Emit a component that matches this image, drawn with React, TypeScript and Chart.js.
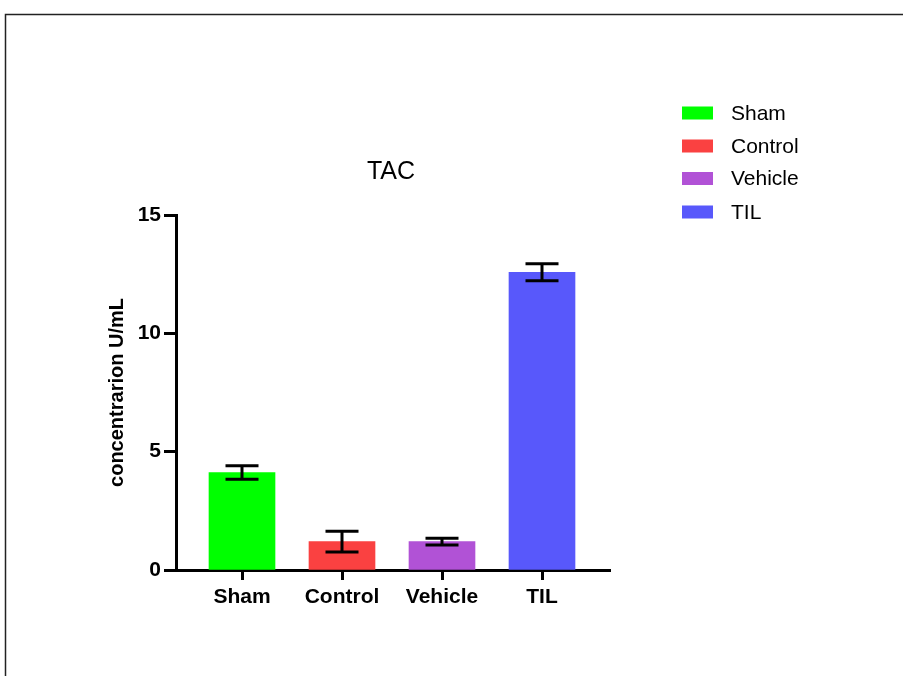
import React, { useEffect, useRef } from "react";
import { Chart, registerables } from "chart.js";

Chart.register(...registerables);

const categories = ["Sham", "Control", "Vehicle", "TIL"];
const means = [4.12, 1.2, 1.2, 12.58];
const errors = [0.29, 0.44, 0.14, 0.36];
const colors = ["#00ff00", "#fa4141", "#b152d6", "#5858fb"];
const yTicks = [0, 5, 10, 15];
const chartTitle = "TAC";
const yTitle = "concentrarion U/mL";

const FONT = "'Liberation Sans', Arial, sans-serif";

const extrasPlugin = {
  id: "extras",
  afterDatasetsDraw(chart: any) {
    const ctx = chart.ctx;
    const x = chart.scales.x;
    const y = chart.scales.y;
    ctx.save();
    // error bars
    ctx.strokeStyle = "#000";
    ctx.lineWidth = 3;
    means.forEach((m, i) => {
      const cx = x.getPixelForValue(i);
      const top = y.getPixelForValue(m + errors[i]);
      const bot = y.getPixelForValue(m - errors[i]);
      const hw = 16.5;
      ctx.beginPath();
      ctx.moveTo(cx, top);
      ctx.lineTo(cx, bot);
      ctx.moveTo(cx - hw, top);
      ctx.lineTo(cx + hw, top);
      ctx.moveTo(cx - hw, bot);
      ctx.lineTo(cx + hw, bot);
      ctx.stroke();
    });
    // title
    ctx.fillStyle = "#000";
    ctx.font = `25px ${FONT}`;
    ctx.textAlign = "center";
    ctx.textBaseline = "middle";
    ctx.fillText(chartTitle, 391, 172);
    // legend
    ctx.font = `21px ${FONT}`;
    ctx.textAlign = "left";
    const rows = [113, 146, 178.5, 212];
    categories.forEach((c, i) => {
      ctx.fillStyle = colors[i];
      ctx.fillRect(682, rows[i] - 6.5, 31, 13);
      ctx.fillStyle = "#000";
      ctx.fillText(c, 731, rows[i] + 1);
    });
    // border
    ctx.strokeStyle = "#222";
    ctx.lineWidth = 1.5;
    ctx.beginPath();
    ctx.moveTo(5.5, 700);
    ctx.lineTo(5.5, 14.5);
    ctx.lineTo(910, 14.5);
    ctx.stroke();
    ctx.restore();
  },
};

export default function App() {
  const ref = useRef<HTMLCanvasElement>(null);
  useEffect(() => {
    document.body.style.margin = "0";
    const chart = new Chart(ref.current as HTMLCanvasElement, {
      type: "bar",
      data: {
        datasets: [
          {
            data: means.map((v, i) => ({ x: i, y: v })),
            backgroundColor: colors,
            borderWidth: 0,
            barThickness: 66,
          },
        ],
      },
      options: {
        animation: false,
        responsive: false,
        devicePixelRatio: 1,
        layout: { padding: { left: 0, top: 215, right: 293, bottom: 0 } },
        plugins: {
          legend: { display: false },
          tooltip: { enabled: false },
          title: { display: false },
        },
        scales: {
          x: {
            type: "linear",
            min: -0.66,
            max: 3.68,
            offset: false,
            afterBuildTicks: (scale: any) => {
              scale.ticks = categories.map((_, i) => ({ value: i }));
            },
            afterFit: (scale: any) => {
              scale.height = 106;
            },
            ticks: {
              callback: (v: any) => categories[Math.round(Number(v))] ?? "",
              color: "#000",
              font: { family: FONT, size: 21, weight: "bold" },
              padding: 5,
              maxRotation: 0,
              autoSkip: false,
            },
            grid: {
              offset: false,
              drawOnChartArea: false,
              drawTicks: true,
              tickLength: 10,
              tickWidth: 3,
              tickColor: "#000",
            },
            border: { display: true, color: "#000", width: 3 },
          },
          y: {
            min: 0,
            max: 15,
            afterBuildTicks: (scale: any) => {
              scale.ticks = yTicks.map((v) => ({ value: v }));
            },
            afterFit: (scale: any) => {
              scale.width = 176;
            },
            ticks: {
              color: "#000",
              font: { family: FONT, size: 21, weight: "bold" },
              padding: 3,
            },
            grid: {
              drawOnChartArea: false,
              drawTicks: true,
              tickLength: 12,
              tickWidth: 3,
              tickColor: "#000",
            },
            border: { display: true, color: "#000", width: 3 },
            title: {
              display: true,
              text: yTitle,
              color: "#000",
              font: { family: FONT, size: 20, weight: "bold" },
              padding: { top: 105, bottom: 0 },
            },
          },
        },
      },
      plugins: [extrasPlugin],
    } as any);
    return () => chart.destroy();
  }, []);
  return (
    <div style={{ width: 903, height: 676 }}>
      <canvas ref={ref} width={903} height={676} style={{ display: "block" }} />
    </div>
  );
}
